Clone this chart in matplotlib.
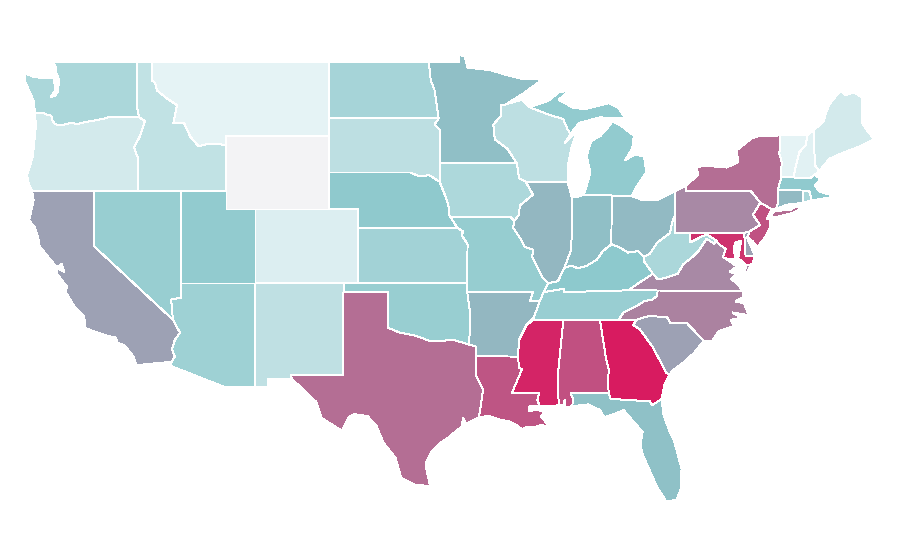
import matplotlib
matplotlib.use('Agg')
import matplotlib.pyplot as plt
from matplotlib.colors import LinearSegmentedColormap
from matplotlib.patches import Polygon

# rate per state
STATES = ['WY', 'MT', 'VT', 'NH', 'CO', 'ME', 'OR', 'ID', 'NM', 'WI', 'SD', 'WA', 'WV', 'RI', 'IA', 'ND',
          'KS', 'AZ', 'TN', 'OK', 'NV', 'MO', 'UT', 'MI', 'MA', 'NE', 'KY', 'MN', 'IN', 'FL', 'CT', 'OH',
          'IL', 'AR', 'CA', 'SC', 'DE', 'NC', 'VA', 'PA', 'TX', 'NY', 'AL', 'LA', 'NJ', 'MD', 'MS', 'GA']
RATES = [0, 4.5, 4.5, 7, 9, 14, 14, 23, 24, 25, 25, 34, 34, 34, 33, 37,
         39, 41, 43, 44, 44, 45, 47, 47, 48, 48.5, 49.5, 52.6, 52.6, 52.3, 54, 54,
         55, 55, 61, 61, 61, 70, 68, 68, 76, 76, 84.7, 83, 84, 93, 97, 100]

SCALE_STOPS = [0, 0.03, 0.5, 1]
SCALE_COLORS = ['#f3f3f5', '#e8f4f6', '#8cc8cc', '#d81b60']

# state outlines as lon, lat; a state can have several parts
OUTLINES = {
    'WA': [[(-122.76, 49), (-117.04, 49), (-117.04, 46.42), (-116.92, 46), (-119, 46), (-119.3, 45.93), (-120, 45.82),
            (-120.6, 45.74), (-121.15, 45.62), (-121.5, 45.7), (-122.2, 45.57), (-122.65, 45.62), (-122.8, 45.8),
            (-122.9, 46.08), (-123.2, 46.15), (-123.5, 46.25), (-124, 46.25), (-124.07, 46.65), (-124.1, 46.9),
            (-124.35, 47.35), (-124.65, 47.9), (-124.73, 48.38), (-124.1, 48.2), (-123.5, 48.13), (-123.1, 48.15),
            (-122.75, 48.15), (-122.7, 47.9), (-122.6, 47.5), (-122.95, 47.1), (-122.65, 47.15), (-122.45, 47.4),
            (-122.4, 47.8), (-122.4, 48.1), (-122.55, 48.4), (-122.6, 48.75)]],
    'OR': [[(-124, 46.25), (-123.5, 46.25), (-123.2, 46.15), (-122.9, 46.08), (-122.8, 45.8), (-122.65, 45.62),
            (-122.2, 45.57), (-121.5, 45.7), (-121.15, 45.62), (-120.6, 45.74), (-120, 45.82), (-119.3, 45.93),
            (-119, 46), (-116.92, 46), (-116.53, 45.79), (-116.85, 45), (-117.27, 44.38), (-117.03, 43.83),
            (-117.03, 42), (-124.2, 42), (-124.4, 42.3), (-124.55, 42.85), (-124.4, 43.2), (-124.15, 43.9),
            (-124.05, 44.7), (-123.95, 45.5)]],
    'ID': [[(-117.04, 49), (-116.05, 49), (-116.05, 48), (-115.85, 47.86), (-115.7, 47.45), (-115, 47),
            (-114.35, 46.66), (-114.6, 45.68), (-113.87, 45.68), (-113.45, 44.95), (-112.9, 44.43), (-112.3, 44.55),
            (-111.5, 44.55), (-111.05, 44.47), (-111.05, 42), (-117.03, 42), (-117.03, 43.83), (-117.27, 44.38),
            (-116.85, 45), (-116.53, 45.79), (-116.92, 46), (-117.04, 46.42)]],
    'MT': [[(-116.05, 49), (-104.05, 49), (-104.05, 45), (-111.05, 45), (-111.05, 44.47), (-111.5, 44.55),
            (-112.3, 44.55), (-112.9, 44.43), (-113.45, 44.95), (-113.87, 45.68), (-114.6, 45.68), (-114.35, 46.66),
            (-115, 47), (-115.7, 47.45), (-115.85, 47.86), (-116.05, 48)]],
    'WY': [[(-111.05, 45), (-104.05, 45), (-104.05, 41), (-111.05, 41)]],
    'UT': [[(-114.05, 42), (-111.05, 42), (-111.05, 41), (-109.05, 41), (-109.05, 37), (-114.05, 37)]],
    'NV': [[(-120, 42), (-114.05, 42), (-114.05, 36.2), (-114.75, 36.1), (-114.63, 35), (-120, 39)]],
    'CA': [[(-124.2, 42), (-120, 42), (-120, 39), (-114.63, 35), (-114.15, 34.3), (-114.5, 33.9), (-114.7, 33.4),
            (-114.5, 33), (-114.72, 32.72), (-117.12, 32.53), (-117.3, 33), (-117.9, 33.6), (-118.4, 33.75),
            (-118.5, 34.03), (-119.2, 34.15), (-120.6, 34.55), (-120.65, 35.15), (-121.3, 35.7), (-121.95, 36.55),
            (-121.8, 36.8), (-122, 36.95), (-122.5, 37.5), (-122.5, 37.8), (-122, 37.6), (-122.2, 38.05),
            (-122.5, 37.85), (-123, 38.3), (-123.7, 39), (-123.8, 39.5), (-124, 40), (-124.4, 40.4), (-124.1, 41.5)]],
    'AZ': [[(-114.05, 37), (-109.05, 37), (-109.05, 31.33), (-111.07, 31.33), (-114.8, 32.5), (-114.72, 32.72),
            (-114.5, 33), (-114.7, 33.4), (-114.5, 33.9), (-114.15, 34.3), (-114.63, 35), (-114.75, 36.1),
            (-114.05, 36.2)]],
    'NM': [[(-109.05, 37), (-103, 37), (-103.05, 32), (-106.62, 32), (-106.53, 31.78), (-108.2, 31.78),
            (-108.2, 31.33), (-109.05, 31.33)]],
    'CO': [[(-109.05, 41), (-102.05, 41), (-102.05, 37), (-109.05, 37)]],
    'TX': [[(-103.04, 36.5), (-100, 36.5), (-100, 34.56), (-99.2, 34.3), (-98.1, 34.13), (-97.2, 33.85), (-96.6, 33.85),
            (-95.5, 33.9), (-94.48, 33.64), (-94.04, 33.55), (-94.04, 32), (-93.55, 31.2), (-93.7, 30.3),
            (-93.84, 29.7), (-94.7, 29.35), (-94.9, 29.7), (-95, 29.2), (-96, 28.55), (-96.4, 28.35), (-97, 27.9),
            (-97.4, 27.3), (-97.4, 26.9), (-97.15, 25.96),
            (-98.2, 26.05), (-99.1, 26.4), (-99.5, 27.5), (-100.3, 28.3), (-100.8, 29.25), (-101.4, 29.77),
            (-102.3, 29.87), (-102.7, 29.7), (-103.15, 28.98), (-104.5, 29.65), (-104.9, 30.55), (-106.53, 31.78),
            (-106.62, 32), (-103.05, 32)]],
    'OK': [[(-103, 37), (-94.62, 37), (-94.43, 35.39), (-94.48, 33.64), (-95.5, 33.9), (-96.6, 33.85), (-97.2, 33.85),
            (-98.1, 34.13), (-99.2, 34.3), (-100, 34.56), (-100, 36.5), (-103, 36.5)]],
    'KS': [[(-102.05, 40), (-95.3, 40), (-94.9, 39.8), (-95, 39.6), (-94.6, 39.1), (-94.62, 37), (-102.05, 37)]],
    'NE': [[(-104.05, 43), (-98.5, 43), (-97.9, 42.8), (-97.2, 42.85), (-96.5, 42.5), (-96.1, 41.7), (-95.9, 41.2),
            (-95.85, 40.7), (-95.3, 40), (-102.05, 40), (-102.05, 41), (-104.05, 41)]],
    'SD': [[(-104.05, 45.94), (-96.56, 45.94), (-96.85, 45.6), (-96.45, 45.3), (-96.45, 43.5), (-96.5, 42.5),
            (-97.2, 42.85), (-97.9, 42.8), (-98.5, 43), (-104.05, 43)]],
    'ND': [[(-104.05, 49), (-97.23, 49), (-97.1, 48), (-96.85, 47.5), (-96.56, 45.94), (-104.05, 45.94)]],
    'MN': [[(-97.23, 49), (-95.15, 49), (-95.15, 49.38), (-94.8, 49.3), (-94.6, 48.7), (-93, 48.55), (-92, 48.3),
            (-91, 48.1), (-90, 48.1), (-89.6, 48), (-90.8, 47.3), (-92, 46.7), (-92.3, 46.66), (-92.3, 46.1),
            (-92.85, 45.6), (-92.75, 44.8), (-91.9, 44.3), (-91.25, 43.5), (-96.45, 43.5), (-96.45, 45.3),
            (-96.85, 45.6), (-96.56, 45.94), (-96.85, 47.5), (-97.1, 48)]],
    'IA': [[(-96.45, 43.5), (-91.25, 43.5), (-91.1, 42.7), (-90.65, 42.5), (-90.15, 41.8), (-91.05, 41.2), (-91.1, 40.7),
            (-91.42, 40.38), (-91.7, 40.6), (-95.77, 40.58), (-95.85, 40.7), (-95.9, 41.2), (-96.1, 41.7), (-96.5, 42.5)]],
    'MO': [[(-95.77, 40.58), (-91.7, 40.6), (-91.42, 40.38), (-91.5, 40), (-91, 39.4), (-90.7, 38.95), (-90.15, 38.8),
            (-90.2, 38.4), (-89.5, 37.3), (-89.13, 36.98), (-89.42, 36.5), (-89.7, 36), (-90.37, 36), (-90.15, 36.5),
            (-94.62, 36.5), (-94.62, 37), (-94.6, 39.1), (-95, 39.6), (-94.9, 39.8), (-95.3, 40)]],
    'AR': [[(-94.62, 36.5), (-90.15, 36.5), (-90.37, 36), (-89.7, 36), (-90.1, 35.1), (-90.6, 34.7), (-91.1, 33.9),
            (-91.17, 33), (-94.04, 33.02), (-94.04, 33.55), (-94.48, 33.64), (-94.43, 35.39)]],
    'LA': [[(-94.04, 33.02), (-91.17, 33), (-91.1, 32.4), (-90.9, 32.3), (-91.6, 31), (-89.73, 31), (-89.85, 30.65),
            (-89.7, 30.3), (-90.4, 30.3), (-90.4, 30.05), (-89.8, 30.1), (-89.4, 30), (-89.6, 29.75), (-89.2, 29.35),
            (-89.1, 29.05), (-89.5, 29.3), (-90.1, 29.15), (-90.5, 29.2), (-90.9, 29.05), (-91.3, 29.3), (-91.8, 29.5),
            (-92.3, 29.55), (-93.2, 29.78), (-93.84, 29.7), (-93.7, 30.3), (-93.55, 31.2), (-94.04, 32)]],
    'MS': [[(-90.1, 35), (-88.2, 35), (-88.1, 34.9), (-88.47, 31.9), (-88.4, 30.35), (-89.7, 30.3), (-89.85, 30.65),
            (-89.73, 31), (-91.6, 31), (-90.9, 32.3), (-91.1, 32.4), (-91.17, 33), (-91.1, 33.9), (-90.6, 34.7)]],
    'AL': [[(-88.2, 35), (-85.6, 35), (-85.18, 32.87), (-85, 32.3), (-85.05, 31.55), (-85, 31), (-87.6, 31), (-87.4, 30.65),
            (-87.5, 30.3), (-87.95, 30.25), (-88, 30.65), (-88.1, 30.35), (-88.4, 30.35), (-88.47, 31.9), (-88.1, 34.9)]],
    'GA': [[(-85.6, 35), (-83.1, 35), (-83.35, 34.7), (-82.9, 34.5), (-82, 33.5), (-81.4, 32.6), (-81.1, 32.1),
            (-80.85, 32.03), (-81.2, 31.5), (-81.4, 30.7), (-82.05, 30.36), (-82.2, 30.57), (-84.86, 30.7), (-85, 31),
            (-85.05, 31.55), (-85, 32.3), (-85.18, 32.87)]],
    'FL': [[(-87.6, 31), (-85, 31), (-84.86, 30.7), (-82.2, 30.57), (-82.05, 30.36), (-81.4, 30.7), (-81.3, 29.9),
            (-80.9, 29), (-80.55, 28.4), (-80.05, 26.9), (-80.1, 25.8), (-80.4, 25.2), (-81.1, 25.15), (-81.7, 25.9),
            (-82.1, 26.6), (-82.7, 27.7), (-82.85, 28.2), (-82.7, 28.9), (-83.4, 29.55), (-84, 30.1), (-84.4, 29.95),
            (-85.3, 29.7), (-85.6, 30.1), (-86.4, 30.4), (-87.5, 30.3), (-87.4, 30.65)]],
    'SC': [[(-83.35, 34.7), (-83.1, 35), (-82.3, 35.2), (-81.05, 35.15), (-80.8, 34.82), (-79.67, 34.8), (-78.55, 33.86),
            (-79.2, 33.2), (-79.9, 32.7), (-80.65, 32.25), (-80.85, 32.03), (-81.1, 32.1), (-81.4, 32.6), (-82, 33.5),
            (-82.9, 34.5)]],
    'NC': [[(-84.32, 35), (-83.1, 35), (-82.3, 35.2), (-81.05, 35.15), (-80.8, 34.82), (-79.67, 34.8), (-78.55, 33.86),
            (-77.95, 33.87), (-77.5, 34.4), (-76.5, 34.65), (-76.7, 35), (-76, 35.1), (-76.6, 35.4), (-75.5, 35.25),
            (-75.8, 35.9), (-76.4, 36), (-75.9, 36.2), (-75.87, 36.55),
            (-81.68, 36.59), (-81.7, 36.3), (-82.05, 36.1), (-82.6, 36), (-83.2, 35.7), (-84, 35.4)]],
    'TN': [[(-90.1, 35), (-88.2, 35), (-85.6, 35), (-84.32, 35), (-84, 35.4), (-83.2, 35.7), (-82.6, 36), (-82.05, 36.1),
            (-81.7, 36.3), (-81.68, 36.59), (-83.67, 36.6), (-88.07, 36.5), (-88.07, 36.68), (-89.42, 36.5), (-89.7, 36),
            (-90.1, 35.1)]],
    'KY': [[(-89.42, 36.5), (-88.07, 36.68), (-88.07, 36.5), (-83.67, 36.6), (-82.95, 37), (-82, 37.5), (-82.6, 38.17),
            (-82.6, 38.42), (-83, 38.73), (-83.7, 38.65), (-84.3, 38.95), (-84.82, 39.1), (-85.4, 38.73), (-85.8, 38.27),
            (-86.5, 37.93), (-87.1, 37.8), (-87.6, 37.95), (-88.03, 37.8), (-88.45, 37.1), (-89.13, 36.98)]],
    'WV': [[(-82.6, 38.42), (-82.6, 38.17), (-82, 37.5), (-81.68, 37.2), (-81.25, 37.25), (-80.3, 37.5), (-79.95, 38),
            (-79.3, 38.42), (-78.87, 38.76), (-78.35, 39.4), (-77.83, 39.13), (-77.72, 39.32), (-78.3, 39.62),
            (-78.6, 39.55), (-79.47, 39.2), (-79.48, 39.72), (-80.52, 39.72), (-80.52, 40.64), (-80.65, 40.4),
            (-80.85, 39.7), (-81.7, 39.2), (-82.2, 38.6)]],
    'VA': [[(-83.67, 36.6), (-81.68, 36.59), (-75.87, 36.55), (-76.3, 37), (-76.7, 37.2), (-76.3, 37.5), (-76.8, 37.6),
            (-76.3, 37.9), (-77, 38.3), (-77.05, 38.85), (-77.5, 39.1), (-77.72, 39.32), (-77.83, 39.13), (-78.35, 39.4),
            (-78.87, 38.76), (-79.3, 38.42), (-79.95, 38), (-80.3, 37.5), (-81.25, 37.25), (-81.68, 37.2), (-82, 37.5),
            (-82.95, 37)],
           [(-75.95, 37.15), (-75.6, 37.6), (-75.25, 38.03), (-75.65, 37.95)]],
    'MD': [[(-79.48, 39.72), (-75.79, 39.72), (-75.7, 38.46), (-75.05, 38.45), (-75.25, 38.03), (-75.65, 37.95),
            (-76.2, 38.35), (-76, 39.3), (-76.4, 39.2), (-76.5, 38.9), (-76.4, 38.3), (-76.9, 38.3), (-77.25, 38.4),
            (-77.05, 38.85), (-77.5, 39.1), (-77.72, 39.32), (-78.3, 39.62), (-78.6, 39.55), (-79.47, 39.2)]],
    'DE': [[(-75.79, 39.72), (-75.42, 39.8), (-75.6, 39.45), (-75.4, 39.1), (-75.05, 38.45), (-75.7, 38.46)]],
    'PA': [[(-80.52, 39.72), (-75.79, 39.72), (-75.42, 39.8), (-74.72, 40.15), (-75.2, 40.7), (-74.7, 41.36), (-75.35, 42),
            (-79.76, 42), (-79.76, 42.27), (-80.52, 41.98)]],
    'OH': [[(-84.82, 39.1), (-84.3, 38.95), (-83.7, 38.65), (-83, 38.73), (-82.6, 38.42), (-82.2, 38.6), (-81.7, 39.2),
            (-80.85, 39.7), (-80.65, 40.4), (-80.52, 40.64), (-80.52, 41.98), (-81.7, 41.5), (-82.7, 41.5), (-83.45, 41.72),
            (-84.8, 41.7)]],
    'IN': [[(-84.82, 39.1), (-84.8, 41.76), (-86.8, 41.76), (-87.2, 41.65), (-87.53, 41.7), (-87.53, 39.35), (-87.6, 38.7),
            (-88.03, 37.8), (-87.6, 37.95), (-87.1, 37.8), (-86.5, 37.93), (-85.8, 38.27), (-85.4, 38.73)]],
    'IL': [[(-90.65, 42.5), (-87.8, 42.5), (-87.53, 41.7), (-87.53, 39.35), (-87.6, 38.7), (-88.03, 37.8), (-88.45, 37.1),
            (-89.13, 36.98), (-89.5, 37.3), (-90.2, 38.4), (-90.15, 38.8), (-90.7, 38.95), (-91, 39.4), (-91.5, 40),
            (-91.42, 40.38), (-91.1, 40.7), (-91.05, 41.2), (-90.15, 41.8)]],
    'WI': [[(-92, 46.7), (-90.9, 46.95), (-90.4, 46.55), (-89.1, 46.15), (-88.1, 45.9), (-87.8, 45.35), (-87.6, 45.1),
            (-87.98, 44.6), (-87.2, 45.2), (-87.55, 44.3), (-87.8, 43.3), (-87.8, 42.5), (-90.65, 42.5), (-91.1, 42.7),
            (-91.25, 43.5), (-91.9, 44.3), (-92.75, 44.8), (-92.85, 45.6), (-92.3, 46.1), (-92.3, 46.66)]],
    'MI': [[(-86.8, 41.76), (-84.8, 41.7), (-83.45, 41.72), (-83.1, 42.25), (-82.45, 43), (-82.6, 43.9), (-83.3, 43.95),
            (-83.9, 43.65), (-83.4, 44.3), (-83.3, 45), (-84.1, 45.5), (-84.75, 45.78), (-85.1, 45.4), (-85.55, 45),
            (-86.2, 44.7), (-86.5, 43.9), (-86.25, 43), (-86.6, 42)],
           [(-90.4, 46.55), (-89.1, 46.9), (-88.4, 47.35), (-87.7, 47.45), (-88.4, 46.95), (-87.4, 46.5), (-86.6, 46.45),
            (-85, 46.77), (-84.35, 46.5), (-83.9, 45.97), (-84.75, 45.95), (-85.6, 46), (-86.5, 45.8), (-87, 45.7),
            (-87.6, 45.1), (-87.8, 45.35), (-88.1, 45.9), (-89.1, 46.15)]],
    'NY': [[(-79.76, 42), (-75.35, 42), (-74.7, 41.36), (-73.9, 41), (-73.65, 41), (-73.5, 41.3), (-73.5, 42.05),
            (-73.27, 42.75), (-73.25, 43.6), (-73.4, 44), (-73.34, 45.01), (-74.7, 45), (-75.3, 44.85), (-76.3, 44.2),
            (-76.2, 43.55), (-77, 43.27), (-78.5, 43.37), (-79.05, 43.27), (-78.9, 42.9), (-79.76, 42.27)],
           [(-74, 40.6), (-73.75, 40.9), (-72.6, 40.98), (-72.3, 41.15), (-71.9, 41.05), (-72.5, 40.8), (-73.5, 40.6)]],
    'NJ': [[(-74.7, 41.36), (-75.2, 40.7), (-74.72, 40.15), (-75.42, 39.8), (-75.55, 39.5), (-75.2, 39.25), (-74.9, 38.95),
            (-74.4, 39.45), (-74.05, 40), (-74, 40.45), (-74.25, 40.5), (-73.9, 41)]],
    'CT': [[(-73.5, 42.05), (-71.8, 42.02), (-71.8, 41.35), (-72.9, 41.25), (-73.65, 41), (-73.5, 41.3)]],
    'RI': [[(-71.8, 42.02), (-71.38, 42.02), (-71.2, 41.5), (-71.85, 41.32)]],
    'MA': [[(-73.5, 42.05), (-73.27, 42.75), (-72.46, 42.73), (-71.3, 42.7), (-71, 42.87), (-70.6, 42.65), (-71, 42.3),
            (-70.65, 41.95), (-70, 41.8), (-70, 42.07), (-69.95, 41.65), (-70.65, 41.55), (-71.2, 41.5), (-71.38, 42.02),
            (-71.8, 42.02)]],
    'VT': [[(-73.34, 45.01), (-71.5, 45.01), (-71.6, 44.5), (-72.05, 44.1), (-72.46, 42.73), (-73.27, 42.75), (-73.25, 43.6),
            (-73.4, 44)]],
    'NH': [[(-71.5, 45.01), (-71.08, 45.3), (-70.98, 43.4), (-70.7, 43.07), (-71, 42.87), (-71.3, 42.7), (-72.46, 42.73),
            (-72.05, 44.1), (-71.6, 44.5)]],
    'ME': [[(-71.08, 45.3), (-70.4, 45.75), (-70.25, 46.2), (-70, 46.7), (-69.23, 47.46), (-68.9, 47.2), (-68.3, 47.35),
            (-67.8, 47.07), (-67.8, 45.7), (-67.45, 45.3), (-66.95, 44.8), (-68, 44.4), (-69, 44.1), (-70, 43.75), (-70.7, 43.07),
            (-70.98, 43.4)]],
}

cmap = LinearSegmentedColormap.from_list('rates', list(zip(SCALE_STOPS, SCALE_COLORS)))

fig = plt.figure(figsize=(9, 5.6), dpi=100)
ax = fig.add_axes([0, 0, 1, 1])

for state, rate in zip(STATES, RATES):
    for part in OUTLINES[state]:
        ax.add_patch(Polygon(part, closed=True, facecolor=cmap(rate / 100), edgecolor='white',
                             linewidth=0.7, antialiased=False))

ax.set_xlim(-126.385, -65.2)
ax.set_ylim(21.95, 52.37)
ax.axis('off')

fig.savefig('out.png', dpi=100)
